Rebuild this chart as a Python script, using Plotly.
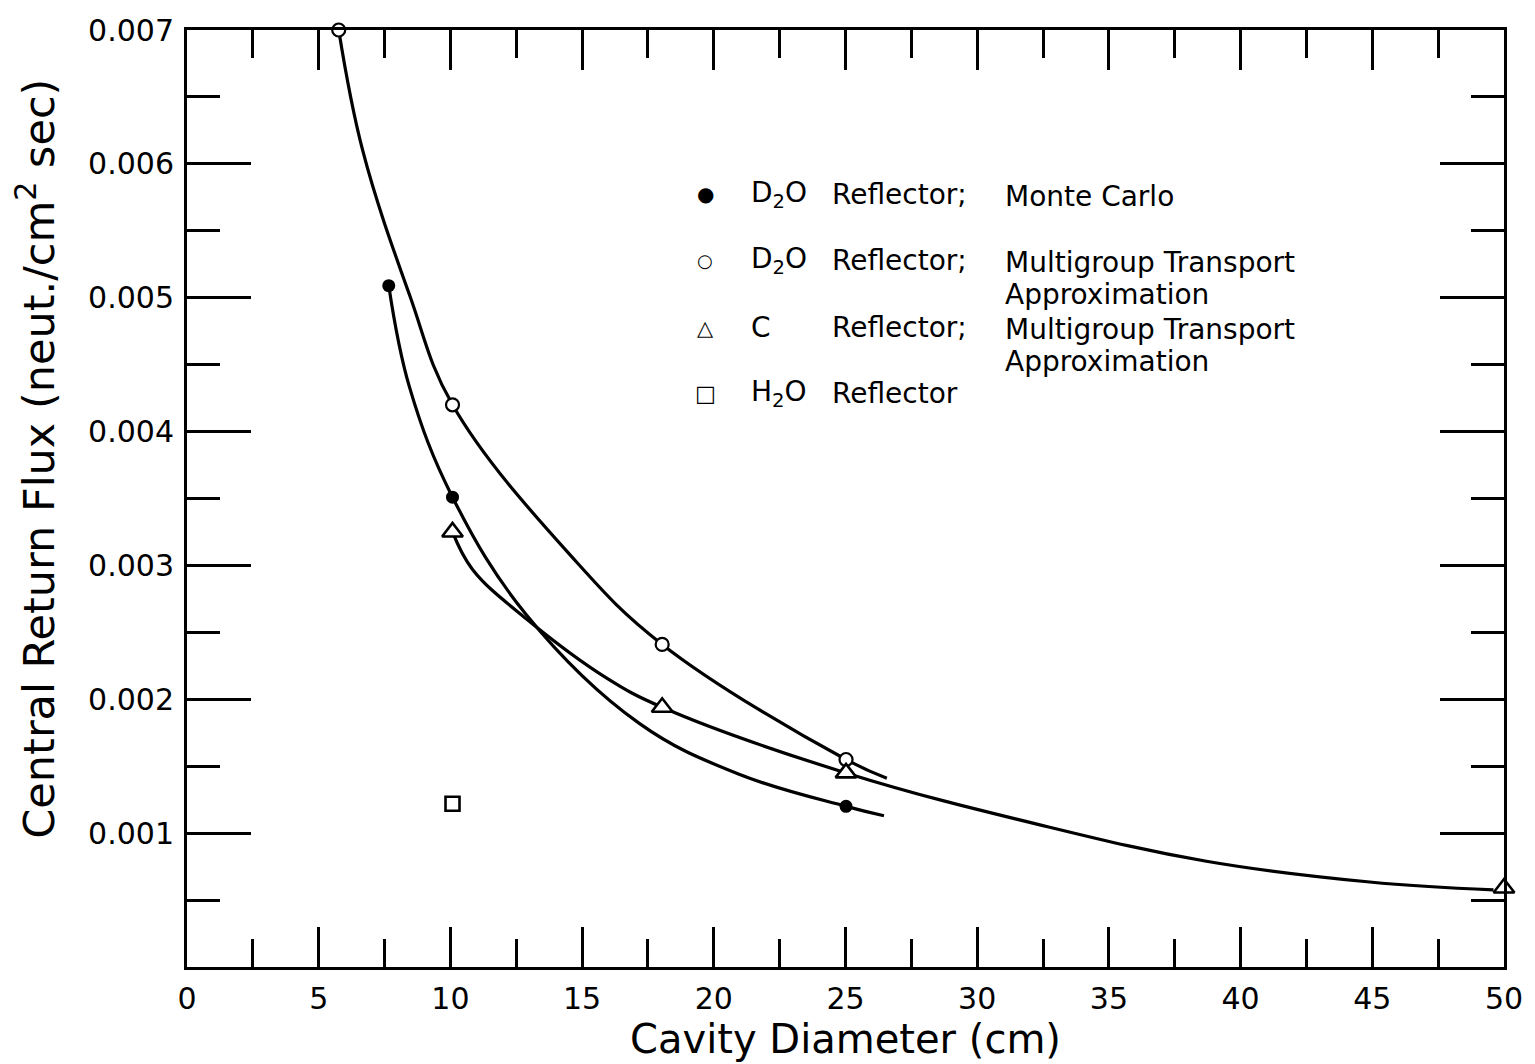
import plotly.graph_objects as go

# ---- data ----
mc_x = [7.66, 10.08, 25.02]
mc_y = [0.00509, 0.00351, 0.00120]
mc_curve_x = [7.66, 8.45, 10.08, 12.89, 17.17, 20.96, 25.02, 26.46]
mc_curve_y = [0.00509, 0.00433, 0.00351, 0.00263, 0.00182, 0.00144, 0.00120, 0.00113]

mg_x = [5.76, 10.08, 18.04, 25.02]
mg_y = [0.00700, 0.00420, 0.00241, 0.00155]
mg_curve_x = [5.76, 6.67, 8.45, 10.08, 14.63, 18.04, 25.02, 26.57]
mg_curve_y = [0.00700, 0.00610, 0.00502, 0.00420, 0.00306, 0.00241, 0.00155, 0.00141]

c_x = [10.08, 18.04, 25.02, 50.0]
c_y = [0.00325, 0.00194, 0.00145, 0.00059]
c_curve_x = [10.08, 10.84, 12.89, 15.92, 18.04, 25.02, 32.34, 38.7, 44.9, 49.6]
c_curve_y = [0.00325, 0.00297, 0.00260, 0.00216, 0.00194, 0.00145, 0.001064, 0.00079, 0.000635, 0.000576]

h2o_x = [10.08]
h2o_y = [0.00122]

x_major_ticks = [0, 5, 10, 15, 20, 25, 30, 35, 40, 45, 50]
x_tick_labels = ["0", "5", "10", "15", "20", "25", "30", "35", "40", "45", "50"]
x_minor_ticks = [2.5, 7.5, 12.5, 17.5, 22.5, 27.5, 32.5, 37.5, 42.5, 47.5]
y_major_ticks = [0, 0.001, 0.002, 0.003, 0.004, 0.005, 0.006, 0.007]
y_tick_labels = ["", "0.001", "0.002", "0.003", "0.004", "0.005", "0.006", "0.007"]
y_minor_ticks = [0.0005, 0.0015, 0.0025, 0.0035, 0.0045, 0.0055, 0.0065]

legend_symbols = ["●", "○", "△", "□"]
legend_materials = ["D<sub>2</sub>O", "D<sub>2</sub>O", "C", "H<sub>2</sub>O"]
legend_methods = ["Monte Carlo", "Multigroup Transport", "Multigroup Transport", ""]
legend_method_line2 = ["", "Approximation", "Approximation", ""]

FONT = "DejaVu Sans"
LINE = dict(color="black", width=3.2)

fig = go.Figure()
for cx, cy in [(mc_curve_x, mc_curve_y), (mg_curve_x, mg_curve_y), (c_curve_x, c_curve_y)]:
    fig.add_trace(go.Scatter(x=cx, y=cy, mode="lines", line=dict(shape="spline", smoothing=1.1, **LINE),
                             showlegend=False, hoverinfo="skip", cliponaxis=False))

fig.add_trace(go.Scatter(x=mc_x, y=mc_y, mode="markers", showlegend=False, cliponaxis=False,
                         marker=dict(symbol="circle", size=13, color="black")))
fig.add_trace(go.Scatter(x=mg_x, y=mg_y, mode="markers", showlegend=False, cliponaxis=False,
                         marker=dict(symbol="circle", size=13, color="white", line=dict(color="black", width=2.2))))
fig.add_trace(go.Scatter(x=c_x, y=c_y, mode="markers", showlegend=False, cliponaxis=False,
                         marker=dict(symbol="triangle-up", size=18, color="white", line=dict(color="black", width=2.6))))
fig.add_trace(go.Scatter(x=h2o_x, y=h2o_y, mode="markers", showlegend=False, cliponaxis=False,
                         marker=dict(symbol="square", size=14, color="white", line=dict(color="black", width=2.6))))

# legend as annotations
L, R, T, B = 187, 1506, 22, 969
def px(x):
    return (x - L) / (R - L)
def py(y):
    return (B - y) / (B - T)

rows_y = [188, 255, 323, 389]
sym_sizes = [20, 18, 21, 22]
LF = 28
for i, ry in enumerate(rows_y):
    fig.add_annotation(x=px(706), y=py(ry), xref="paper", yref="paper", text=legend_symbols[i],
                       showarrow=False, xanchor="center", yanchor="middle",
                       font=dict(family=FONT, size=sym_sizes[i], color="black"))
    fig.add_annotation(x=px(750), y=py(ry), xref="paper", yref="paper", text=legend_materials[i],
                       showarrow=False, xanchor="left", yanchor="middle",
                       font=dict(family=FONT, size=LF, color="black"))
    fig.add_annotation(x=px(831), y=py(ry), xref="paper", yref="paper", text="Reflector" + (";" if legend_methods[i] else ""),
                       showarrow=False, xanchor="left", yanchor="middle",
                       font=dict(family=FONT, size=LF, color="black"))
    if legend_methods[i]:
        fig.add_annotation(x=px(1004), y=py(ry + 2), xref="paper", yref="paper", text=legend_methods[i],
                           showarrow=False, xanchor="left", yanchor="middle",
                           font=dict(family=FONT, size=LF, color="black"))
    if legend_method_line2[i]:
        fig.add_annotation(x=px(1004), y=py(ry + 34), xref="paper", yref="paper", text=legend_method_line2[i],
                           showarrow=False, xanchor="left", yanchor="middle",
                           font=dict(family=FONT, size=LF, color="black"))

# y-axis title as rotated annotation
fig.add_annotation(x=px(36), y=py(455), xref="paper", yref="paper",
                   text="Central Return Flux (neut./cm<sup>2</sup> sec)", textangle=-90,
                   showarrow=False, xanchor="center", yanchor="middle",
                   font=dict(family=FONT, size=43, color="black"))

axis_common = dict(showline=True, linecolor="black", linewidth=3, mirror="ticks",
                   ticks="inside", tickwidth=2.5, tickcolor="black",
                   showgrid=False, zeroline=False,
                   tickfont=dict(family=FONT, size=30, color="black"))

fig.update_xaxes(range=[0, 50], tickmode="array", tickvals=x_major_ticks, ticktext=x_tick_labels,
                 ticklen=40, ticklabelstandoff=3,
                 minor=dict(tickmode="array", tickvals=x_minor_ticks, ticks="inside", ticklen=28,
                            tickwidth=2.5, tickcolor="black"),
                 title=dict(text="Cavity Diameter (cm)", font=dict(family=FONT, size=40, color="black"), standoff=8),
                 **axis_common)
fig.update_yaxes(range=[0, 0.007], tickmode="array", tickvals=y_major_ticks, ticktext=y_tick_labels,
                 ticklen=64, ticklabelstandoff=4,
                 minor=dict(tickmode="array", tickvals=y_minor_ticks, ticks="inside", ticklen=33,
                            tickwidth=2.5, tickcolor="black"),
                 **axis_common)

fig.update_layout(width=1535, height=1064, margin=dict(l=L, r=1535 - R, t=T, b=1064 - B),
                  plot_bgcolor="white", paper_bgcolor="white", showlegend=False)

fig.write_html("out.html")
